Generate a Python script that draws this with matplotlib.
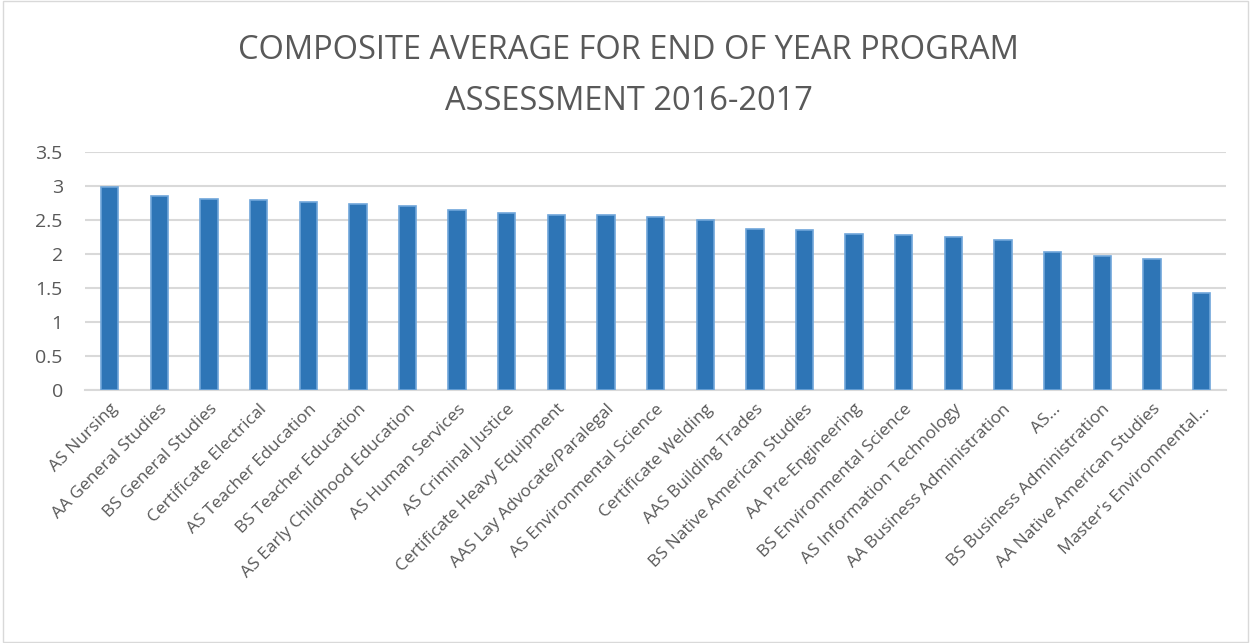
import matplotlib.pyplot as plt
import numpy as np
from matplotlib.patches import Rectangle

programs = ['AS Nursing', 'AA General Studies', 'BS General Studies', 'Certificate Electrical',
            'AS Teacher Education', 'BS Teacher Education', 'AS Early Childhood Education',
            'AS Human Services', 'AS Criminal Justice', 'Certificate Heavy Equipment',
            'AAS Lay Advocate/Paralegal', 'AS Environmental Science', 'Certificate Welding',
            'AAS Building Trades', 'BS Native American Studies', 'AA Pre-Engineering',
            'BS Environmental Science', 'AS Information Technology', 'AA Business Administration',
            'AS\u2026', 'BS Business Administration', 'AA Native American Studies',
            "Master's Environmental\u2026"]
averages = [2.99, 2.85, 2.81, 2.79, 2.77, 2.74, 2.70, 2.65, 2.61, 2.57, 2.57, 2.55,
            2.50, 2.37, 2.35, 2.29, 2.28, 2.25, 2.20, 2.03, 1.97, 1.92, 1.43]
yticks = [0, 0.5, 1, 1.5, 2, 2.5, 3, 3.5]
ytick_labels = ['0', '0.5', '1', '1.5', '2', '2.5', '3', '3.5']

plt.rcParams['font.family'] = ['Open Sans', 'DejaVu Sans']
text_color = '#595959'

fig = plt.figure(figsize=(12.5, 6.43), dpi=100)
ax = fig.add_axes([0.068, 0.3935, 0.913, 0.3701])

x = np.arange(len(programs))
ax.bar(x, averages, width=0.35, color='#2E75B6', edgecolor='#6FA6DA', linewidth=1.2, zorder=3)

ax.set_xlim(-0.5, len(programs) - 0.5)
ax.set_ylim(0, 3.5)
ax.set_yticks(yticks)
ax.set_yticklabels(ytick_labels, fontsize=14, color=text_color)
ax.set_xticks(x)
ax.set_xticklabels(programs, rotation=45, ha='right', rotation_mode='anchor',
                   fontsize=12.5, color=text_color)
ax.tick_params(axis='both', length=0)
ax.tick_params(axis='y', pad=16)
ax.tick_params(axis='x', pad=8)

ax.grid(True, axis='y', color='#D9D9D9', linewidth=1.5, zorder=0)
for s in ['top', 'right', 'left']:
    ax.spines[s].set_visible(False)
ax.spines['bottom'].set_color('#D9D9D9')
ax.spines['bottom'].set_linewidth(1.5)

fig.text(0.503, 0.921, 'COMPOSITE AVERAGE FOR END OF YEAR PROGRAM', ha='center', va='center',
         fontsize=23.5, color=text_color)
fig.text(0.503, 0.842, 'ASSESSMENT 2016-2017', ha='center', va='center',
         fontsize=23.5, color=text_color)

fig.patches.append(Rectangle((0.002, 0.002), 0.996, 0.996, transform=fig.transFigure,
                             fill=False, edgecolor='#D9D9D9', linewidth=1))

fig.savefig('out.png', dpi=100)
